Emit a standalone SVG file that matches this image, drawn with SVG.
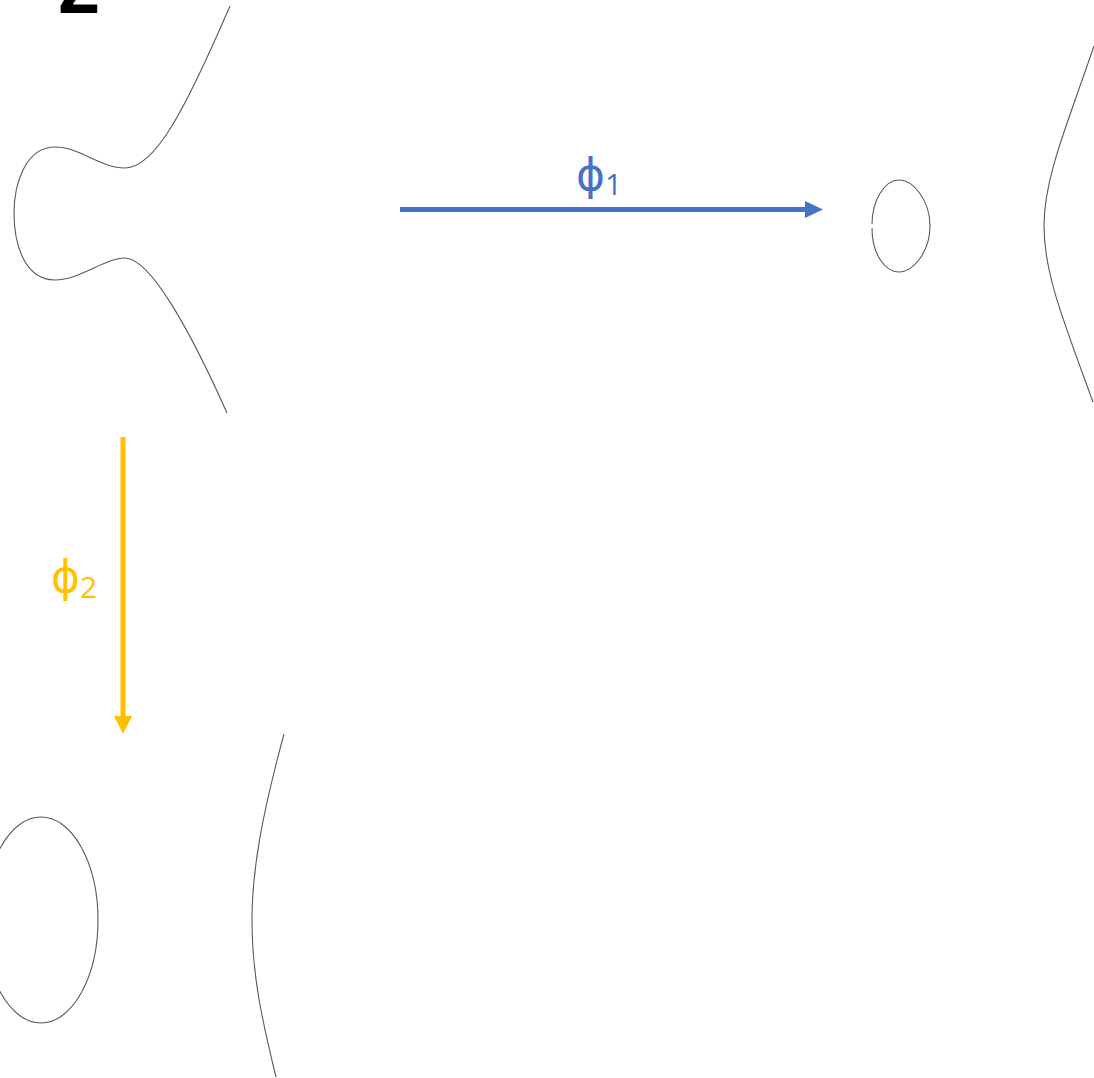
<svg xmlns="http://www.w3.org/2000/svg" width="1094" height="1078" viewBox="0 0 1094 1078">
<style>
.curve{fill:none;stroke:#595959;stroke-width:1.1}
.lbl{font-family:"Open Sans","DejaVu Sans",sans-serif}
</style>
<rect width="1094" height="1078" fill="#fff"/>
<g id="title"><text x="58" y="13" font-family="Liberation Sans, sans-serif" font-weight="bold" font-size="76" fill="#000">2</text></g>
<g id="curve-top-left"><path class="curve" d="M230,6 C185,110 155,168 125,168 C100,168 80,147 55,147 C25,147 14,185 14,213 C14,245 25,280 55,280 C80,280 105,258 125,258 C150,258 190,330 227,413"/></g>
<g id="oval-top-right"><path class="curve" d="M872,224 C872,200 885,180 899,180 C913,180 930,200 930,226 C930,252 913,272 899,272 C885,272 872,254 872,228"/></g>
<g id="curve-top-right"><path class="curve" d="M1094,46 C1066,128 1044,178 1044,226 C1044,274 1064,322 1093,402"/></g>
<g id="oval-bottom-left"><ellipse class="curve" cx="41" cy="920" rx="57" ry="103"/></g>
<g id="curve-bottom-left"><path class="curve" d="M284,734 C262,815 252,870 252,920 C252,975 262,1020 276,1077"/></g>
<g id="connectors">
<line x1="400" y1="209.5" x2="807" y2="209.5" stroke="#4472C4" stroke-width="5"/>
<path d="M805,201 L823,209.5 L805,218 Z" fill="#4472C4"/>
<line x1="123" y1="437" x2="123" y2="718" stroke="#FFC000" stroke-width="5"/>
<path d="M114,716 L123,734 L132,716 Z" fill="#FFC000"/>
</g>
<g id="labels">
<text class="lbl" x="576" y="190" font-size="44" fill="#4472C4">ϕ<tspan font-size="30" dy="5">1</tspan></text>
<text class="lbl" x="51" y="592" font-size="44" fill="#FFC000">ϕ<tspan font-size="30" dy="6">2</tspan></text>
</g>
</svg>
